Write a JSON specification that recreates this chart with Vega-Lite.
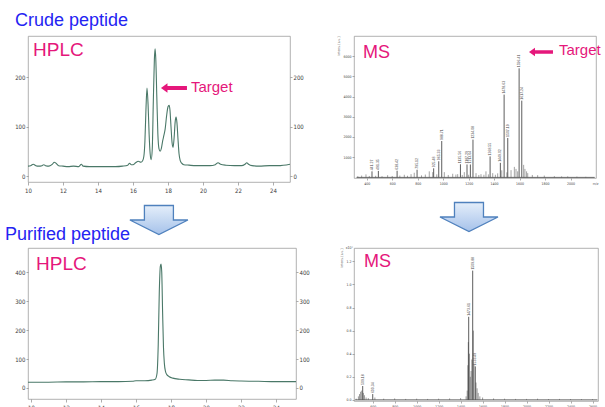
{
  "$schema": "https://vega.github.io/schema/vega-lite/v6.json",
  "background": "white",
  "padding": {"left": 4, "top": 11, "right": 0, "bottom": 0},
  "bounds": "flush",
  "align": "each",
  "columns": 2,
  "spacing": {"row": 66, "column": 58},
  "datasets": {
    "hplcCrude": [
      {"min":10.0,"mAU":20},{"min":10.15,"mAU":21},{"min":10.3,"mAU":24},{"min":10.45,"mAU":21},{"min":10.6,"mAU":20},{"min":10.8,"mAU":21},{"min":10.9,"mAU":23},{"min":11.0,"mAU":21},{"min":11.2,"mAU":20},{"min":11.4,"mAU":24},{"min":11.5,"mAU":28},{"min":11.6,"mAU":26},{"min":11.75,"mAU":21},{"min":12.0,"mAU":20},{"min":12.3,"mAU":19},{"min":12.6,"mAU":20},{"min":12.9,"mAU":19},{"min":13.05,"mAU":24},{"min":13.15,"mAU":20},{"min":13.5,"mAU":19},{"min":14.0,"mAU":19},{"min":14.5,"mAU":19},{"min":15.0,"mAU":19},{"min":15.4,"mAU":20},{"min":15.7,"mAU":22},{"min":15.8,"mAU":26},{"min":15.9,"mAU":23},{"min":16.0,"mAU":23},{"min":16.15,"mAU":27},{"min":16.3,"mAU":30},{"min":16.45,"mAU":28},{"min":16.55,"mAU":31},{"min":16.62,"mAU":40},{"min":16.68,"mAU":70},{"min":16.74,"mAU":135},{"min":16.8,"mAU":178},{"min":16.86,"mAU":145},{"min":16.92,"mAU":85},{"min":16.98,"mAU":45},{"min":17.04,"mAU":33},{"min":17.1,"mAU":55},{"min":17.16,"mAU":150},{"min":17.22,"mAU":235},{"min":17.26,"mAU":257},{"min":17.3,"mAU":238},{"min":17.36,"mAU":160},{"min":17.42,"mAU":85},{"min":17.48,"mAU":56},{"min":17.55,"mAU":50},{"min":17.62,"mAU":56},{"min":17.7,"mAU":72},{"min":17.77,"mAU":83},{"min":17.84,"mAU":96},{"min":17.92,"mAU":122},{"min":18.0,"mAU":140},{"min":18.06,"mAU":143},{"min":18.11,"mAU":134},{"min":18.17,"mAU":100},{"min":18.23,"mAU":68},{"min":18.29,"mAU":58},{"min":18.35,"mAU":78},{"min":18.41,"mAU":110},{"min":18.46,"mAU":119},{"min":18.51,"mAU":108},{"min":18.57,"mAU":75},{"min":18.63,"mAU":45},{"min":18.7,"mAU":31},{"min":18.78,"mAU":26},{"min":18.9,"mAU":23},{"min":19.2,"mAU":22},{"min":19.6,"mAU":21},{"min":20.0,"mAU":21},{"min":20.4,"mAU":21},{"min":20.7,"mAU":23},{"min":20.86,"mAU":27},{"min":21.0,"mAU":24},{"min":21.3,"mAU":22},{"min":21.8,"mAU":21},{"min":22.2,"mAU":21},{"min":22.4,"mAU":24},{"min":22.5,"mAU":27},{"min":22.6,"mAU":24},{"min":22.8,"mAU":21},{"min":23.2,"mAU":20},{"min":23.8,"mAU":21},{"min":24.3,"mAU":21},{"min":24.97,"mAU":24}
    ],
    "hplcPure": [
      {"min":9.83,"mAU":20},{"min":10.5,"mAU":20},{"min":11.0,"mAU":20},{"min":12.0,"mAU":21},{"min":13.0,"mAU":21},{"min":14.0,"mAU":22},{"min":15.0,"mAU":22},{"min":15.8,"mAU":23},{"min":16.0,"mAU":25},{"min":16.5,"mAU":25},{"min":16.9,"mAU":27},{"min":17.1,"mAU":30},{"min":17.2,"mAU":50},{"min":17.27,"mAU":150},{"min":17.33,"mAU":330},{"min":17.39,"mAU":420},{"min":17.43,"mAU":428},{"min":17.47,"mAU":400},{"min":17.52,"mAU":260},{"min":17.57,"mAU":140},{"min":17.62,"mAU":85},{"min":17.68,"mAU":58},{"min":17.76,"mAU":46},{"min":17.9,"mAU":39},{"min":18.1,"mAU":34},{"min":18.5,"mAU":30},{"min":19.0,"mAU":28},{"min":19.5,"mAU":26},{"min":20.0,"mAU":26},{"min":20.5,"mAU":27},{"min":21.0,"mAU":27},{"min":21.5,"mAU":25},{"min":22.0,"mAU":24},{"min":23.0,"mAU":23},{"min":24.0,"mAU":22},{"min":25.14,"mAU":22}
    ],
    "msCrude": [
      {"mz":441.27,"intensity":300},{"mz":491.35,"intensity":320},{"mz":638.42,"intensity":330},{"mz":795.12,"intensity":380},{"mz":925.48,"intensity":450},{"mz":965.33,"intensity":800},{"mz":988.71,"intensity":1800},{"mz":1135.56,"intensity":650},{"mz":1187.29,"intensity":640},{"mz":1213.64,"intensity":640},{"mz":1234.08,"intensity":1870},{"mz":1368.55,"intensity":1040},{"mz":1449.02,"intensity":720},{"mz":1478.63,"intensity":4100},{"mz":1507.19,"intensity":1950},{"mz":1596.41,"intensity":5400},{"mz":1617.24,"intensity":3800}
    ],
    "msCrudeNoise": [
      {"mz":330,"intensity":60},{"mz":360,"intensity":90},{"mz":394,"intensity":150},{"mz":420,"intensity":70},{"mz":470,"intensity":80},{"mz":520,"intensity":60},{"mz":564,"intensity":110},{"mz":600,"intensity":70},{"mz":660,"intensity":90},{"mz":695,"intensity":130},{"mz":720,"intensity":80},{"mz":748,"intensity":160},{"mz":773,"intensity":230},{"mz":830,"intensity":100},{"mz":860,"intensity":140},{"mz":891,"intensity":300},{"mz":918,"intensity":260},{"mz":950,"intensity":150},{"mz":1009,"intensity":260},{"mz":1040,"intensity":120},{"mz":1075,"intensity":180},{"mz":1100,"intensity":140},{"mz":1114,"intensity":160},{"mz":1150,"intensity":120},{"mz":1166,"intensity":260},{"mz":1200,"intensity":130},{"mz":1258,"intensity":210},{"mz":1280,"intensity":120},{"mz":1297,"intensity":160},{"mz":1320,"intensity":130},{"mz":1336,"intensity":300},{"mz":1355,"intensity":150},{"mz":1389,"intensity":210},{"mz":1410,"intensity":130},{"mz":1428,"intensity":200},{"mz":1460,"intensity":350},{"mz":1500,"intensity":250},{"mz":1533,"intensity":360},{"mz":1559,"intensity":520},{"mz":1572,"intensity":420},{"mz":1585,"intensity":300},{"mz":1632,"intensity":620},{"mz":1642,"intensity":420},{"mz":1655,"intensity":300},{"mz":1664,"intensity":210},{"mz":1700,"intensity":120},{"mz":1742,"intensity":110},{"mz":1794,"intensity":90},{"mz":1873,"intensity":60},{"mz":1930,"intensity":50},{"mz":1978,"intensity":50},{"mz":2050,"intensity":40},{"mz":2120,"intensity":30}
    ],
    "msPure": [
      {"mz":509.18,"intensity":0.12},{"mz":600.34,"intensity":0.05},{"mz":1473.61,"intensity":0.72},{"mz":1509.88,"intensity":1.12},{"mz":1533.49,"intensity":0.29}
    ],
    "msPureNoise": [
      {"mz":450,"intensity":0.01},{"mz":470,"intensity":0.03},{"mz":480,"intensity":0.05},{"mz":490,"intensity":0.07},{"mz":500,"intensity":0.08},{"mz":515,"intensity":0.06},{"mz":525,"intensity":0.04},{"mz":540,"intensity":0.02},{"mz":560,"intensity":0.015},{"mz":620,"intensity":0.02},{"mz":700,"intensity":0.01},{"mz":800,"intensity":0.012},{"mz":900,"intensity":0.008},{"mz":1000,"intensity":0.01},{"mz":1100,"intensity":0.008},{"mz":1200,"intensity":0.01},{"mz":1300,"intensity":0.012},{"mz":1400,"intensity":0.015},{"mz":1450,"intensity":0.03},{"mz":1460,"intensity":0.08},{"mz":1466,"intensity":0.3},{"mz":1470,"intensity":0.5},{"mz":1480,"intensity":0.4},{"mz":1488,"intensity":0.2},{"mz":1495,"intensity":0.25},{"mz":1502,"intensity":0.35},{"mz":1516,"intensity":0.6},{"mz":1522,"intensity":0.3},{"mz":1540,"intensity":0.15},{"mz":1550,"intensity":0.1},{"mz":1560,"intensity":0.06},{"mz":1575,"intensity":0.03},{"mz":1600,"intensity":0.02},{"mz":1700,"intensity":0.012},{"mz":1800,"intensity":0.01},{"mz":1900,"intensity":0.008},{"mz":2000,"intensity":0.008},{"mz":2100,"intensity":0.01},{"mz":2200,"intensity":0.007},{"mz":2300,"intensity":0.008},{"mz":2400,"intensity":0.007},{"mz":2500,"intensity":0.006},{"mz":2600,"intensity":0.006}
    ]
  },
  "concat": [
    {
      "width": 262, "height": 146,
      "title": {"text": "Crude peptide", "anchor": "start", "frame": "group", "offset": -8, "dx": -13, "baseline": "alphabetic", "fontSize": 18, "fontWeight": "normal", "color": "#2424f2", "font": "Liberation Sans"},
      "resolve": {"axis": {"y": "independent"}},
      "layer": [
        {"data": {"name": "hplcCrude"},
         "mark": {"type": "line", "color": "#4a7868", "strokeWidth": 1.1, "interpolate": "monotone"},
         "encoding": {
           "x": {"field": "min", "type": "quantitative", "scale": {"domain": [10, 24.97], "nice": false, "zero": false}, "axis": {"title": null, "values": [10,12,14,16,18,20,22,24], "format": "d", "tickCount": 40, "labelFontSize": 6, "tickSize": 3, "labelPadding": 2}},
           "y": {"field": "mAU", "type": "quantitative", "scale": {"domain": [-12, 283], "nice": false, "zero": false}, "axis": {"title": null, "values": [0,100,200], "format": "d", "tickCount": 40, "labelFontSize": 6, "tickSize": 2, "labelPadding": 1}}
         }},
        {"data": {"name": "hplcCrude"},
         "mark": {"type": "line", "opacity": 0},
         "encoding": {
           "x": {"field": "min", "type": "quantitative", "axis": {"title": null, "values": [10,12,14,16,18,20,22,24], "format": "d", "tickCount": 40, "labelFontSize": 6, "tickSize": 3, "labelPadding": 2}},
           "y": {"field": "mAU", "type": "quantitative", "axis": {"orient": "right", "title": null, "values": [0,100,200], "format": "d", "tickCount": 40, "labelFontSize": 6, "tickSize": 2, "labelPadding": 1}}
         }},
        {"data": {"values": [{}]},
         "mark": {"type": "text", "text": "HPLC", "align": "left", "baseline": "alphabetic", "fontSize": 19, "color": "#e5177b", "font": "Liberation Sans"},
         "encoding": {"x": {"datum": 10.29}, "y": {"datum": 242.6, "axis": null}}},
        {"data": {"values": [{}]},
         "mark": {"type": "point", "shape": "M -1 0 L -0.5 -0.36 L -0.5 -0.15 L 1 -0.15 L 1 0.15 L -0.5 0.15 L -0.5 0.36 Z", "size": 676, "filled": true, "color": "#e5177b", "opacity": 1},
         "encoding": {"x": {"datum": 18.34}, "y": {"datum": 178, "axis": null}}},
        {"data": {"values": [{}]},
         "mark": {"type": "text", "text": "Target", "align": "left", "baseline": "alphabetic", "fontSize": 15, "color": "#e5177b", "font": "Liberation Sans"},
         "encoding": {"x": {"datum": 19.31}, "y": {"datum": 169.8, "axis": null}}},
        {"data": {"values": [{}]},
         "mark": {"type": "point", "shape": "M -0.5 -0.5 L 0.5 -0.5 L 0.5 0 L 1 0 L 0 0.5 L -1 0 L -0.5 0 Z", "size": 3364, "filled": true, "opacity": 1,
                  "fill": {"gradient": "linear", "x1": 0, "y1": 0, "x2": 0, "y2": 1, "stops": [{"offset": 0, "color": "#e4eefa"}, {"offset": 1, "color": "#a6c2ea"}]},
                  "stroke": "#4f81bd", "strokeWidth": 1.3},
         "encoding": {"x": {"datum": 17.48}, "y": {"datum": -88.8, "axis": null}}}
      ]
    },
    {
      "width": 242, "height": 142,
      "layer": [
        {"data": {"name": "msCrudeNoise"},
         "mark": {"type": "rule", "color": "#666", "strokeWidth": 0.6},
         "encoding": {
           "x": {"field": "mz", "type": "quantitative", "title": "m/z", "scale": {"domain": [300, 2200], "nice": false, "zero": false},
                 "axis": {"values": [400,600,800,1000,1200,1400,1600,1800,2000], "tickCount": 40, "format": "d", "labelFontSize": 3.5, "tickSize": 2, "labelPadding": 1, "titleFontSize": 3.5, "titleAnchor": "end", "titleAlign": "right", "titleBaseline": "top", "titleX": 244, "titleY": 3}},
           "y": {"field": "intensity", "type": "quantitative", "title": "Intens. [a.u.]", "scale": {"domain": [-30, 7000], "nice": false, "zero": false},
                 "axis": {"values": [1000,2000,3000,4000,5000,6000], "tickCount": 40, "format": "d", "labelFontSize": 3.5, "tickSize": 2, "labelPadding": 1, "titleFontSize": 3.3, "titleAnchor": "end", "titlePadding": 2}},
           "y2": {"datum": 0}
         }},
        {"data": {"name": "msCrude"},
         "mark": {"type": "rule", "color": "#333", "strokeWidth": 0.8},
         "encoding": {
           "x": {"field": "mz", "type": "quantitative", "title": "m/z"},
           "y": {"field": "intensity", "type": "quantitative", "title": "Intens. [a.u.]"},
           "y2": {"datum": 0}
         }},
        {"data": {"name": "msCrude"},
         "mark": {"type": "text", "angle": 270, "align": "left", "baseline": "middle", "dx": 1, "fontSize": 3.5, "color": "#444"},
         "encoding": {
           "x": {"field": "mz", "type": "quantitative", "title": "m/z"},
           "y": {"field": "intensity", "type": "quantitative", "title": "Intens. [a.u.]"},
           "text": {"field": "mz", "type": "quantitative", "format": ".2f"}
         }},
        {"data": {"values": [{}]},
         "mark": {"type": "rule", "color": "#444", "strokeWidth": 0.8},
         "encoding": {"x": {"datum": 320}, "x2": {"datum": 2190}, "y": {"datum": 0}}},
        {"data": {"values": [{}]},
         "mark": {"type": "text", "text": "MS", "align": "left", "baseline": "alphabetic", "fontSize": 18, "color": "#e5177b", "font": "Liberation Sans"},
         "encoding": {"x": {"datum": 370.7}, "y": {"datum": 5911}}},
        {"data": {"values": [{}]},
         "mark": {"type": "point", "shape": "M -1 0 L -0.5 -0.36 L -0.5 -0.15 L 1 -0.15 L 1 0.15 L -0.5 0.15 L -0.5 0.36 Z", "size": 576, "filled": true, "color": "#e5177b", "opacity": 1},
         "encoding": {"x": {"datum": 1768}, "y": {"datum": 6208}}},
        {"data": {"values": [{}]},
         "mark": {"type": "text", "text": "Target", "align": "left", "baseline": "alphabetic", "fontSize": 15, "color": "#e5177b", "font": "Liberation Sans"},
         "encoding": {"x": {"datum": 1909.5}, "y": {"datum": 6059}}},
        {"data": {"values": [{}]},
         "mark": {"type": "point", "shape": "M -0.5 -0.5 L 0.5 -0.5 L 0.5 0 L 1 0 L 0 0.5 L -1 0 L -0.5 0 Z", "size": 3364, "filled": true, "opacity": 1,
                  "fill": {"gradient": "linear", "x1": 0, "y1": 0, "x2": 0, "y2": 1, "stops": [{"offset": 0, "color": "#e4eefa"}, {"offset": 1, "color": "#a6c2ea"}]},
                  "stroke": "#4f81bd", "strokeWidth": 1.3},
         "encoding": {"x": {"datum": 1202.7}, "y": {"datum": -1960}}}
      ]
    },
    {
      "width": 268, "height": 151,
      "title": {"text": "Purified peptide", "anchor": "start", "frame": "group", "offset": -10, "dx": -23, "baseline": "alphabetic", "fontSize": 18, "fontWeight": "normal", "color": "#2424f2", "font": "Liberation Sans"},
      "resolve": {"axis": {"y": "independent"}},
      "layer": [
        {"data": {"name": "hplcPure"},
         "mark": {"type": "line", "color": "#4a7868", "strokeWidth": 1.1, "interpolate": "monotone"},
         "encoding": {
           "x": {"field": "min", "type": "quantitative", "scale": {"domain": [9.83, 25.14], "nice": false, "zero": false}, "axis": {"title": null, "values": [10,12,14,16,18,20,22,24], "format": "d", "tickCount": 40, "labelFontSize": 6, "tickSize": 3, "labelPadding": 2}},
           "y": {"field": "mAU", "type": "quantitative", "scale": {"domain": [-38, 483], "nice": false, "zero": false}, "axis": {"title": null, "values": [0,100,200,300,400], "format": "d", "tickCount": 40, "labelFontSize": 6, "tickSize": 2, "labelPadding": 1}}
         }},
        {"data": {"name": "hplcPure"},
         "mark": {"type": "line", "opacity": 0},
         "encoding": {
           "x": {"field": "min", "type": "quantitative", "axis": {"title": null, "values": [10,12,14,16,18,20,22,24], "format": "d", "tickCount": 40, "labelFontSize": 6, "tickSize": 3, "labelPadding": 2}},
           "y": {"field": "mAU", "type": "quantitative", "axis": {"orient": "right", "title": null, "values": [0,100,200,300,400], "format": "d", "tickCount": 40, "labelFontSize": 6, "tickSize": 2, "labelPadding": 1}}
         }},
        {"data": {"values": [{}]},
         "mark": {"type": "text", "text": "HPLC", "align": "left", "baseline": "alphabetic", "fontSize": 19, "color": "#e5177b", "font": "Liberation Sans"},
         "encoding": {"x": {"datum": 10.287}, "y": {"datum": 407, "axis": null}}}
      ]
    },
    {
      "width": 244, "height": 153,
      "layer": [
        {"data": {"name": "msPureNoise"},
         "mark": {"type": "rule", "color": "#555", "strokeWidth": 0.6},
         "encoding": {
           "x": {"field": "mz", "type": "quantitative", "title": null, "scale": {"domain": [430, 2650], "nice": false, "zero": false},
                 "axis": {"values": [600,800,1000,1200,1400,1600,1800,2000,2200,2400,2600], "tickCount": 40, "format": "d", "labelFontSize": 3.5, "tickSize": 2, "labelPadding": 1}},
           "y": {"field": "intensity", "type": "quantitative", "title": "Intens. [a.u.]", "scale": {"domain": [-0.01, 1.316], "nice": false, "zero": false},
                 "axis": {"values": [0,0.2,0.4,0.6,0.8,1.0,1.2], "tickCount": 40, "format": ".1f", "labelFontSize": 3.5, "tickSize": 2, "labelPadding": 1, "titleFontSize": 3.3, "titleAnchor": "end", "titlePadding": 2}},
           "y2": {"datum": 0}
         }},
        {"data": {"name": "msPure"},
         "mark": {"type": "rule", "color": "#333", "strokeWidth": 0.8},
         "encoding": {
           "x": {"field": "mz", "type": "quantitative", "title": null},
           "y": {"field": "intensity", "type": "quantitative", "title": "Intens. [a.u.]"},
           "y2": {"datum": 0}
         }},
        {"data": {"name": "msPure"},
         "mark": {"type": "text", "angle": 270, "align": "left", "baseline": "middle", "dx": 1, "fontSize": 3.5, "color": "#444"},
         "encoding": {
           "x": {"field": "mz", "type": "quantitative", "title": null},
           "y": {"field": "intensity", "type": "quantitative", "title": "Intens. [a.u.]"},
           "text": {"field": "mz", "type": "quantitative", "format": ".2f"}
         }},
        {"data": {"values": [{}]},
         "mark": {"type": "rule", "color": "#444", "strokeWidth": 0.8},
         "encoding": {"x": {"datum": 440}, "x2": {"datum": 2645}, "y": {"datum": 0}}},
        {"data": {"values": [{}]},
         "mark": {"type": "text", "text": "x10⁴", "align": "right", "baseline": "middle", "dx": -1, "fontSize": 3.5, "color": "#444"},
         "encoding": {"x": {"datum": 430}, "y": {"datum": 1.316}}},
        {"data": {"values": [{}]},
         "mark": {"type": "text", "text": "MS", "align": "left", "baseline": "alphabetic", "fontSize": 18, "color": "#e5177b", "font": "Liberation Sans"},
         "encoding": {"x": {"datum": 521}, "y": {"datum": 1.151}}}
      ]
    }
  ],
  "config": {
    "font": "Liberation Sans",
    "view": {"stroke": "#9d9d9d", "strokeWidth": 0.8},
    "axis": {"grid": false, "domain": false, "labelOverlap": false, "labelFlush": false, "labelFont": "Liberation Sans Narrow, DejaVu Sans Condensed, sans-serif", "labelColor": "#3a3a3a", "tickColor": "#777", "tickWidth": 0.6, "titleFont": "Liberation Sans Narrow, DejaVu Sans Condensed, sans-serif", "titleFontWeight": "normal", "titleColor": "#555"}
  }
}
